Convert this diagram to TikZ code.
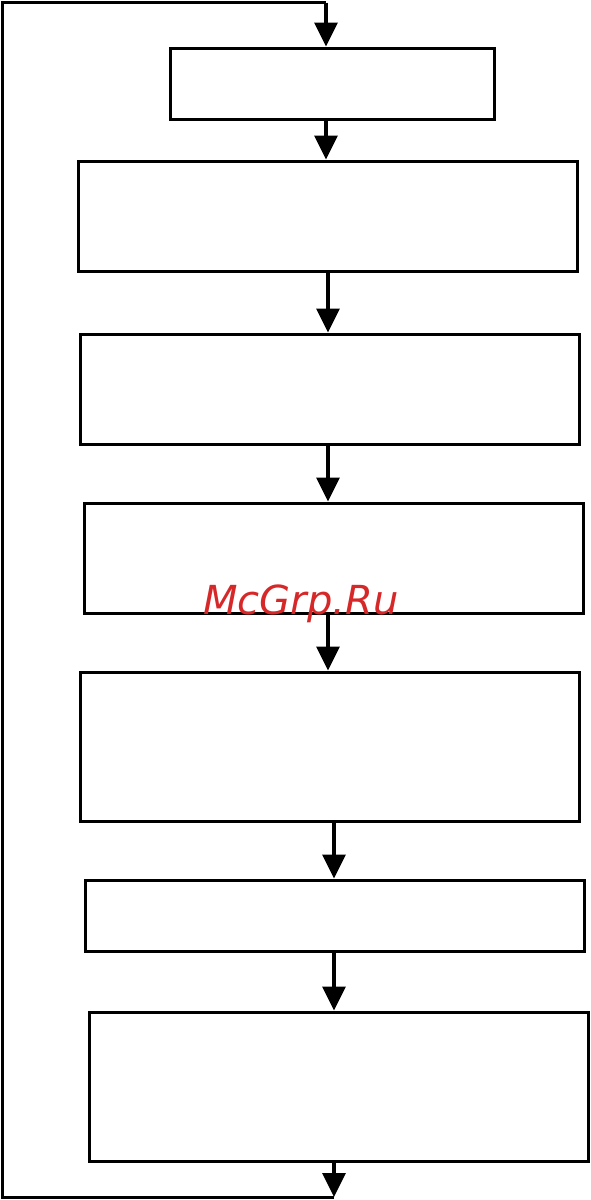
\documentclass[tikz,border=0pt]{standalone}
\usepackage{fontspec}
\usetikzlibrary{arrows.meta}
\newfontfamily\markfont{DejaVu Sans}
\definecolor{markred}{RGB}{214,40,40}

\begin{document}
\begin{tikzpicture}[x=1pt, y=-1pt,
        block/.style={draw, line width=3pt, inner sep=0pt},
        flow/.style={line width=3.4pt, -{Triangle[length=24pt, width=23pt]}},
        loop/.style={line width=3pt}
    ]
        \useasboundingbox (0,0) rectangle (590,1200);
        \node[block, minimum width=324pt, minimum height=71pt]  (b1) at (332, 83.5)   {};
        \node[block, minimum width=499pt, minimum height=110pt] (b2) at (327.5, 216)  {};
        \node[block, minimum width=499pt, minimum height=110pt] (b3) at (329.5, 389)  {};
        \node[block, minimum width=499pt, minimum height=110pt] (b4) at (333.5, 558)  {};
        \node[block, minimum width=499pt, minimum height=149pt] (b5) at (329.5, 746.5) {};
        \node[block, minimum width=499pt, minimum height=71pt]  (b6) at (334.5, 915.5) {};
        \node[block, minimum width=499pt, minimum height=149pt] (b7) at (338.5, 1086.5) {};
        \coordinate (top) at (326, 2.5);
        \coordinate (bot) at (334, 1197);
        \coordinate (mid) at (328, 2);
        \node[font=\markfont\itshape\fontsize{40}{40}\selectfont, text=markred, inner sep=0pt] (mark) at (301, 604) {McGrp.Ru};
        % arrows between blocks
        \draw[flow] (top |- b1.south) -- (top |- b2.north);
        \draw[flow] (mid |- b2.south) -- (mid |- b3.north);
        \draw[flow] (mid |- b3.south) -- (mid |- b4.north);
        \draw[flow] (mid |- b4.south) -- (mid |- b5.north);
        \draw[flow] (bot |- b5.south) -- (bot |- b6.north);
        \draw[flow] (bot |- b6.south) -- (bot |- b7.north);
        \draw[flow] (bot |- b7.south) -- (bot);
        % feedback loop
        \draw[loop] (bot) -- (2.5, 1197) -- (2.5, 2.5) -- (top);
        \draw[flow] (top) -- (top |- b1.north);
    \end{tikzpicture}
\end{document}
